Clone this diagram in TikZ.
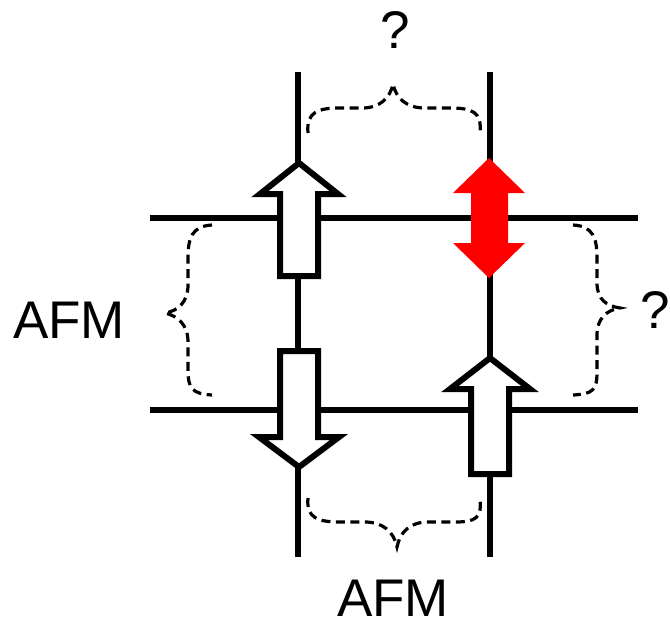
\documentclass[tikz,border=0pt]{standalone}
\usepackage{fontspec}
\setmainfont{Liberation Sans}
\begin{document}
\begin{tikzpicture}[x=1pt,y=-1pt,
  lattice/.style={line width=6pt},
  spinarrow/.style={draw=black,fill=white,line width=6pt,miter limit=10},
  redarrow/.style={fill=red,draw=none},
  brace/.style={line width=3.2pt,dash pattern=on 9pt off 5.5pt},
  lbl/.style={font=\fontsize{53}{60}\selectfont, inner sep=0pt}]
\useasboundingbox (0,0) rectangle (670,625);
% lattice
\coordinate (vlT) at (298,72);  \coordinate (vlB) at (298,557);
\coordinate (vrT) at (490,72);  \coordinate (vrB) at (490,557);
\coordinate (htL) at (150,218); \coordinate (htR) at (638,218);
\coordinate (hbL) at (150,410); \coordinate (hbR) at (638,410);
\draw[lattice] (vlT) -- (vlB);
\draw[lattice] (vrT) -- (vrB);
\draw[lattice] (htL) -- (htR);
\draw[lattice] (hbL) -- (hbR);
% spins
\draw[spinarrow] (299,163) -- (338,194) -- (318,194) -- (318,276) -- (280,276) -- (280,194) -- (260,194) -- cycle;
\draw[spinarrow] (299,467) -- (339,437) -- (318,437) -- (318,351) -- (280,351) -- (280,437) -- (259,437) -- cycle;
\draw[spinarrow] (490,358) -- (530,389) -- (509,389) -- (509,474) -- (471,474) -- (471,389) -- (450,389) -- cycle;
\fill[redarrow] (489,158) -- (525,193) -- (508,193) -- (508,243) -- (525,243) -- (489,278) -- (453,243) -- (471,243) -- (471,193) -- (453,193) -- cycle;
% braces
\draw[brace] (308,133) .. controls (306,112) and (318,108) .. (340,108) -- (362,108) .. controls (380,108) and (390,98) .. (393,84) .. controls (396,98) and (406,108) .. (425,108) -- (450,108) .. controls (472,108) and (482,112) .. (480,132);
\draw[brace] (308,498) .. controls (306,518) and (318,522) .. (340,522) -- (365,522) .. controls (383,522) and (394,532) .. (397,547) .. controls (400,532) and (410,522) .. (428,522) -- (455,522) .. controls (476,522) and (482,518) .. (480,498);
\draw[brace] (212,225) .. controls (192,226) and (188,238) .. (188,258) -- (188,285) .. controls (188,302) and (178,311) .. (165,313) .. controls (178,316) and (188,325) .. (188,342) -- (188,370) .. controls (188,388) and (192,394) .. (212,395);
\draw[brace] (573,225) .. controls (593,226) and (597,238) .. (597,258) -- (597,283) .. controls (597,300) and (607,306) .. (620,308) .. controls (607,310) and (597,318) .. (597,335) -- (597,372) .. controls (597,390) and (593,394) .. (573,395);
% labels
\node[lbl] (q1) at (395,30) {?};
\node[lbl,anchor=east] (q2) at (670,310) {?};
\node[lbl] (afm1) at (69,320) {AFM};
\node[lbl] (afm2) at (393,598) {AFM};
\end{tikzpicture}
\end{document}
